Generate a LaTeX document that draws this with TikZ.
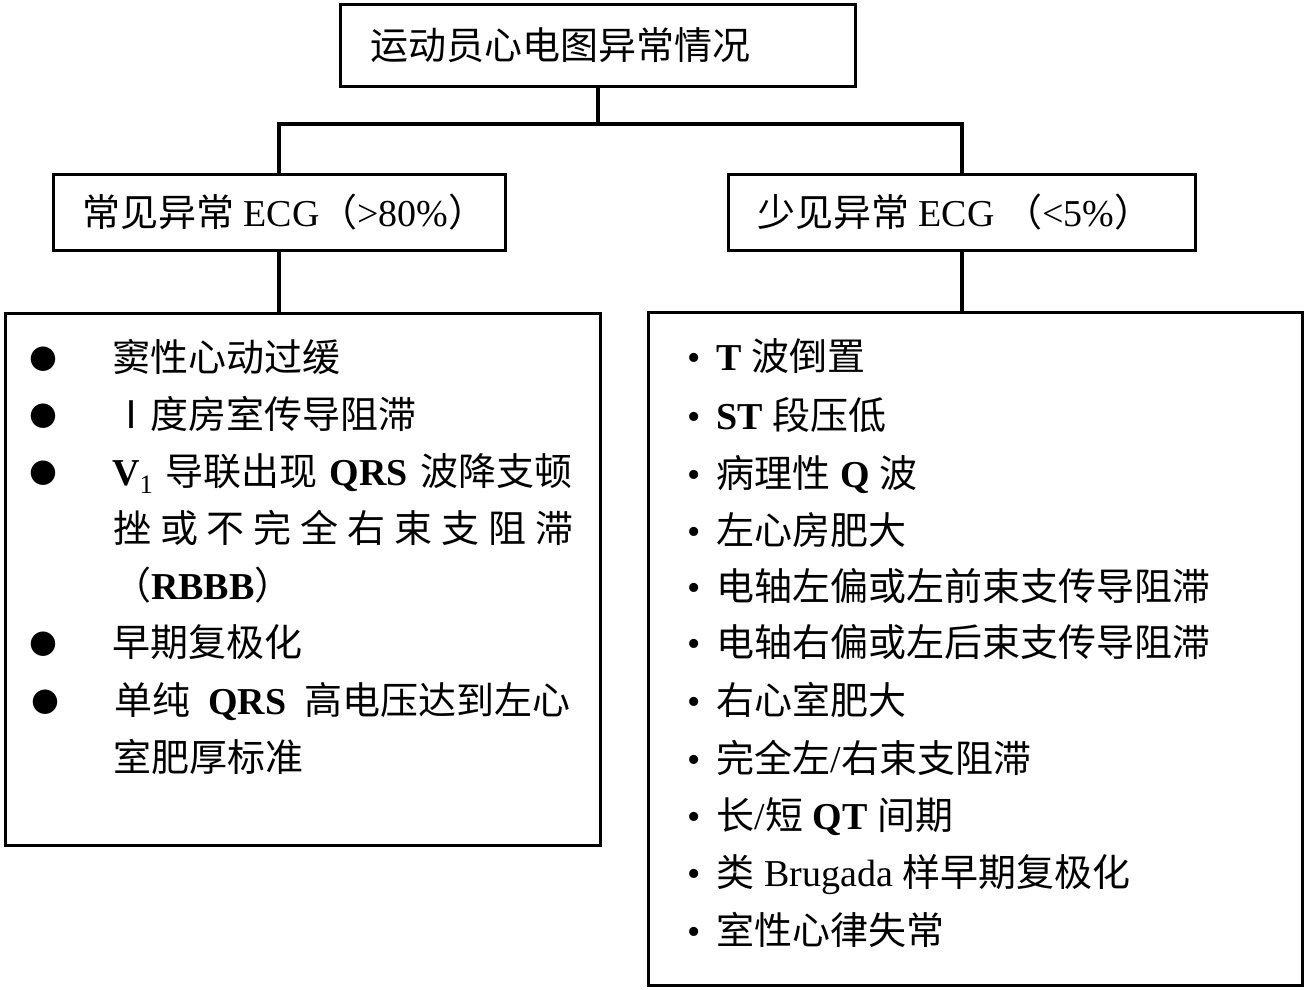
\documentclass[tikz,border=0pt]{standalone}
\usepackage{fontspec}
\setmainfont{Liberation Serif}
\newfontfamily\cjk{Noto Sans CJK SC}
\newfontfamily\symfont{DejaVu Sans}
\usetikzlibrary{positioning,calc}
\newcommand{\zh}[1]{{\cjk #1}}
\newcommand{\dotbig}{\makebox[83pt][l]{\raisebox{4pt}{\fontsize{32}{32}\selectfont\symfont ●}}}
\newcommand{\dotsmall}{\makebox[29.6pt][l]{•}}
\tikzset{
	%Define standard arrow tip
	>=stealth,
	%Define style for text lines
	mylabel/.style={anchor=base west, inner sep=0pt},
	%Define style for boxes
	kasten/.style={
		rectangle,
		draw=black, line width=3pt,
		inner sep=0pt},
	liste/.style={
		rectangle,
		draw=black, line width=3pt},
	% Define line style
	verb/.style={line width=4pt}
}

\begin{document}
\begin{tikzpicture}[x=1pt, y=-1pt, every node/.style={font=\fontsize{38}{46}\selectfont}]
				\useasboundingbox (0,0) rectangle (1306,990);
				% node root
				\node[kasten, minimum width=515, minimum height=81] (root) at (597.5,45.5) {\makebox[455pt][l]{\zh{运动员心电图异常情况}}};
				% node common
				\node[kasten, minimum width=452, minimum height=76] (common) at (279,212) {\makebox[394pt][l]{\zh{常见异常} ECG\zh{（}>80\%\zh{）}}};
				% node rare
				\node[kasten, minimum width=467, minimum height=76] (rare) at (961.5,212) {\makebox[409pt][l]{\zh{少见异常} ECG \zh{（}<5\%\zh{）}}};
				% node list common
				\node[liste, minimum width=595, minimum height=532] (links) at (302.5,579) {};
				% node list rare
				\node[liste, minimum width=654, minimum height=673] (rechts) at (975,648.5) {};
				% lines of list common
				\node[mylabel] (l1) at (29,371) {\dotbig\zh{窦性心动过缓}};
				\node[mylabel] (l2) at (29,428) {\dotbig\zh{Ⅰ度房室传导阻滞}};
				\node[mylabel] (l3) at (29,485) {\dotbig\makebox[460pt][s]{\textbf{V}\textsubscript{1} \zh{导联出现} \textbf{QRS} \zh{波降支顿}}};
				\node[mylabel] (l3b) at (113,542) {\makebox[460pt][s]{\zh{挫 或 不 完 全 右 束 支 阻 滞}}};
				\node[mylabel] (l3c) at (113,599) {\zh{（}\textbf{RBBB}\zh{）}};
				\node[mylabel] (l4) at (29,656) {\dotbig\zh{早期复极化}};
				\node[mylabel] (l5) at (31,714) {\dotbig\makebox[456pt][s]{\zh{单纯} \textbf{QRS} \zh{高电压达到左心}}};
				\node[mylabel] (l5b) at (113,771) {\zh{室肥厚标准}};
				% lines of list rare
				\node[mylabel] (r1) at (687,370) {\dotsmall\textbf{T} \zh{波倒置}};
				\node[mylabel] (r2) at (687,429) {\dotsmall\textbf{ST} \zh{段压低}};
				\node[mylabel] (r3) at (687,487) {\dotsmall\zh{病理性} \textbf{Q} \zh{波}};
				\node[mylabel] (r4) at (687,544) {\dotsmall\zh{左心房肥大}};
				\node[mylabel] (r5) at (687,600) {\dotsmall\zh{电轴左偏或左前束支传导阻滞}};
				\node[mylabel] (r6) at (687,656) {\dotsmall\zh{电轴右偏或左后束支传导阻滞}};
				\node[mylabel] (r7) at (687,714) {\dotsmall\zh{右心室肥大}};
				\node[mylabel] (r8) at (687,772) {\dotsmall\zh{完全左}/\zh{右束支阻滞}};
				\node[mylabel] (r9) at (687,829) {\dotsmall\zh{长}/\zh{短} \textbf{QT} \zh{间期}};
				\node[mylabel] (r10) at (687,886) {\dotsmall\zh{类} Brugada \zh{样早期复极化}};
				\node[mylabel] (r11) at (687,944) {\dotsmall\zh{室性心律失常}};
				% connectors
				\draw[verb] (root.south) -- ++(0,36) coordinate (bar);
				\draw[verb] (common.north) |- (bar) -| (rare.north);
				\draw[verb] (common.south) -- (common.south |- links.north);
				\draw[verb] (rare.south) -- (rare.south |- rechts.north);
			\end{tikzpicture}
\end{document}
